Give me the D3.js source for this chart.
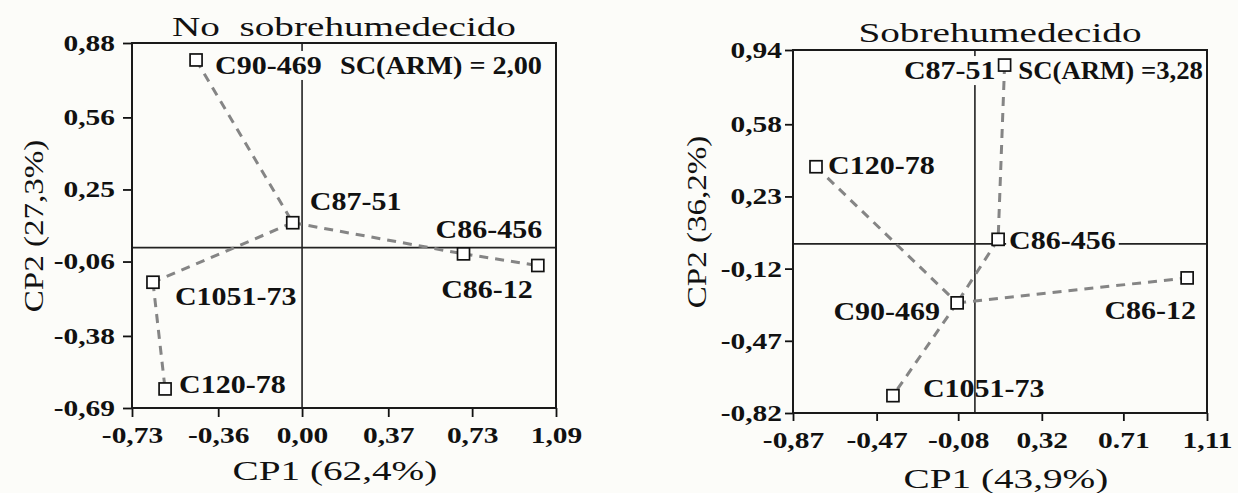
<!DOCTYPE html>
<html><head><meta charset="utf-8">
<script src="https://cdn.jsdelivr.net/npm/d3@7"></script>
<style>
body{margin:0;background:#fcfcf9;}
text{font-family:"Liberation Serif","Times New Roman",serif;fill:#111;}
</style>
</head><body>
<svg id="c" width="1238" height="493"></svg>
<script>
// ---------- DATA: left panel (No sobrehumedecido) ----------
const leftTitle = "No  sobrehumedecido";
const leftXLabel = "CP1 (62,4%)";
const leftYLabel = "CP2 (27,3%)";
const leftNote = "SC(ARM) = 2,00";
const leftXTicks = [-0.73, -0.36, 0.00, 0.37, 0.73, 1.09];
const leftXTickLabels = ["-0,73", "-0,36", "0,00", "0,37", "0,73", "1,09"];
const leftYTicks = [0.88, 0.56, 0.25, -0.06, -0.38, -0.69];
const leftYTickLabels = ["0,88", "0,56", "0,25", "-0,06", "-0,38", "-0,69"];
const leftNames = ["C90-469", "C87-51", "C86-456", "C86-12", "C1051-73", "C120-78"];
const leftCP1 = [-0.455, -0.040, 0.693, 1.012, -0.640, -0.588];
const leftCP2 = [0.807, 0.107, -0.027, -0.077, -0.149, -0.608];
const leftLinks = [["C90-469", "C87-51"], ["C87-51", "C86-456"], ["C86-456", "C86-12"], ["C87-51", "C1051-73"], ["C1051-73", "C120-78"]];

// ---------- DATA: right panel (Sobrehumedecido) ----------
const rightTitle = "Sobrehumedecido";
const rightXLabel = "CP1 (43,9%)";
const rightYLabel = "CP2 (36,2%)";
const rightNote = "SC(ARM) =3,28";
const rightXTicks = [-0.87, -0.47, -0.08, 0.32, 0.71, 1.11];
const rightXTickLabels = ["-0,87", "-0,47", "-0,08", "0,32", "0.71", "1,11"];
const rightYTicks = [0.94, 0.58, 0.23, -0.12, -0.47, -0.82];
const rightYTickLabels = ["0,94", "0,58", "0,23", "-0,12", "-0,47", "-0,82"];
const rightNames = ["C87-51", "C120-78", "C86-456", "C86-12", "C90-469", "C1051-73"];
const rightCP1 = [0.142, -0.760, 0.111, 1.015, -0.085, -0.392];
const rightCP2 = [0.867, 0.374, 0.022, -0.165, -0.286, -0.736];
const rightLinks = [["C87-51", "C86-456"], ["C86-456", "C90-469"], ["C120-78", "C90-469"], ["C90-469", "C86-12"], ["C90-469", "C1051-73"]];

// ---------- LAYOUT (positions / styles) ----------
const leftLayout = {
  x0: 132, x1: 556, y0: 43, y1: 408, tickLen: 9, yPad: 8, xPad: 10,
  titleY: 26, xLabelY: 470, xLabelDX: -9, yLabelX: 33, yLabelY: 226,
  noteX: 542, noteY: 65, noteK: 1.13,
  labels: {
    "C90-469": {dx: 19, dy: 5, anchor: "start", bg: true},
    "C87-51": {dx: 17, dy: -22, anchor: "start"},
    "C86-456": {dx: -28, dy: -25, anchor: "start"},
    "C86-12": {dx: -5, dy: 24, anchor: "end"},
    "C1051-73": {dx: 22, dy: 14, anchor: "start"},
    "C120-78": {dx: 14, dy: -5, anchor: "start"}
  }
};
const rightLayout = {
  x0: 793, x1: 1207, y0: 50, y1: 413, tickLen: 8, yPad: 3, xPad: 11,
  titleY: 32, xLabelY: 478, xLabelDX: 6, yLabelX: 696, yLabelY: 222,
  noteX: 1203, noteY: 70, noteK: 1.07,
  labels: {
    "C87-51": {dx: -9, dy: 5, anchor: "end", bg: true},
    "C120-78": {dx: 12, dy: -2, anchor: "start"},
    "C86-456": {dx: 11, dy: 1, anchor: "start", bg: true},
    "C86-12": {dx: 9, dy: 32, anchor: "end"},
    "C90-469": {dx: -17, dy: 8, anchor: "end"},
    "C1051-73": {dx: 30, dy: -8, anchor: "start"}
  }
};

const svg = d3.select("#c");

// horizontal stretch of glyphs (the source figure is widened)
function stretch(sel, k) {
  sel.each(function () {
    const w = this.getComputedTextLength();
    d3.select(this).attr("textLength", w * k).attr("lengthAdjust", "spacingAndGlyphs");
  });
}

function drawPanel(L, D) {
  const g = svg.append("g");
  const x = d3.scaleLinear().domain([D.xTicks[0], D.xTicks[D.xTicks.length - 1]]).range([L.x0, L.x1]);
  const y = d3.scaleLinear().domain([D.yTicks[D.yTicks.length - 1], D.yTicks[0]]).range([L.y1, L.y0]);

  // zero reference lines
  g.append("line").attr("x1", L.x0).attr("x2", L.x1).attr("y1", y(0)).attr("y2", y(0))
    .attr("stroke", "#222").attr("stroke-width", 1.6);
  g.append("line").attr("x1", x(0)).attr("x2", x(0)).attr("y1", L.y0).attr("y2", L.y1)
    .attr("stroke", "#222").attr("stroke-width", 1.6);

  // axes
  const yAxis = d3.axisLeft(y).tickValues(D.yTicks).tickFormat((v, i) => D.yTickLabels[i])
    .tickSize(L.tickLen).tickSizeOuter(0).tickPadding(L.yPad);
  const xAxis = d3.axisBottom(x).tickValues(D.xTicks).tickFormat((v, i) => D.xTickLabels[i])
    .tickSize(L.tickLen).tickSizeOuter(0).tickPadding(L.xPad);
  const ya = g.append("g").attr("transform", `translate(${L.x0},0)`).call(yAxis);
  const xa = g.append("g").attr("transform", `translate(0,${L.y1})`).call(xAxis);
  [ya, xa].forEach(a => {
    a.select(".domain").remove();
    a.selectAll(".tick line").attr("stroke", "#111").attr("stroke-width", 1.8);
    a.selectAll(".tick text").attr("font-family", "Liberation Serif").attr("font-weight", "bold")
      .attr("font-size", 23).attr("fill", "#111");
    stretch(a.selectAll(".tick text"), 1.28);
  });

  // frame
  g.append("rect").attr("x", L.x0).attr("y", L.y0).attr("width", L.x1 - L.x0).attr("height", L.y1 - L.y0)
    .attr("fill", "none").attr("stroke", "#1a1a1a").attr("stroke-width", 2);

  const pts = D.names.map((n, i) => ({name: n, cx: x(D.cp1[i]), cy: y(D.cp2[i])}));
  const byName = Object.fromEntries(pts.map(p => [p.name, p]));

  // dashed links
  g.selectAll(".lnk").data(D.links).join("line")
    .attr("x1", d => byName[d[0]].cx).attr("y1", d => byName[d[0]].cy)
    .attr("x2", d => byName[d[1]].cx).attr("y2", d => byName[d[1]].cy)
    .attr("stroke", "#858585").attr("stroke-width", 3).attr("stroke-dasharray", "9,7");

  // labels (with optional backgrounds)
  pts.forEach(p => {
    const s = L.labels[p.name];
    const t = g.append("text").attr("x", p.cx + s.dx).attr("y", p.cy + s.dy).attr("dy", "0.36em")
      .attr("text-anchor", s.anchor).attr("font-weight", "bold").attr("font-size", 25).text(p.name);
    stretch(t, 1.2);
    if (s.bg) {
      const b = t.node().getBBox();
      g.insert("rect", () => t.node()).attr("x", b.x - 3).attr("y", b.y - 1)
        .attr("width", b.width + 6).attr("height", b.height + 2).attr("fill", "#fcfcf9");
    }
  });

  // square markers
  g.selectAll(".pt").data(pts).join("rect")
    .attr("x", d => d.cx - 6).attr("y", d => d.cy - 6).attr("width", 12).attr("height", 12)
    .attr("fill", "#fff").attr("stroke", "#111").attr("stroke-width", 1.7);

  // note
  const note = g.append("text").attr("x", L.noteX).attr("y", L.noteY).attr("dy", "0.36em").attr("text-anchor", "end")
    .attr("font-weight", "bold").attr("font-size", 25).text(D.note);
  stretch(note, L.noteK);

  // titles
  const cx = (L.x0 + L.x1) / 2;
  const tt = g.append("text").attr("x", cx).attr("y", L.titleY).attr("dy", "0.36em").attr("text-anchor", "middle")
    .attr("font-size", 28).style("white-space", "pre").text(D.title);
  stretch(tt, 1.4);
  const xl = g.append("text").attr("x", cx + L.xLabelDX).attr("y", L.xLabelY).attr("dy", "0.36em").attr("text-anchor", "middle")
    .attr("font-size", 28).text(D.xLabel);
  stretch(xl, 1.4);
  const yl = g.append("text").attr("transform", `translate(${L.yLabelX},${L.yLabelY}) rotate(-90)`).attr("dy", "0.36em")
    .attr("text-anchor", "middle").attr("font-size", 28).text(D.yLabel);
  stretch(yl, 1.18);
}

drawPanel(leftLayout, {
  title: leftTitle, xLabel: leftXLabel, yLabel: leftYLabel, note: leftNote,
  xTicks: leftXTicks, xTickLabels: leftXTickLabels, yTicks: leftYTicks, yTickLabels: leftYTickLabels,
  names: leftNames, cp1: leftCP1, cp2: leftCP2, links: leftLinks
});
drawPanel(rightLayout, {
  title: rightTitle, xLabel: rightXLabel, yLabel: rightYLabel, note: rightNote,
  xTicks: rightXTicks, xTickLabels: rightXTickLabels, yTicks: rightYTicks, yTickLabels: rightYTickLabels,
  names: rightNames, cp1: rightCP1, cp2: rightCP2, links: rightLinks
});
</script>
</body></html>
